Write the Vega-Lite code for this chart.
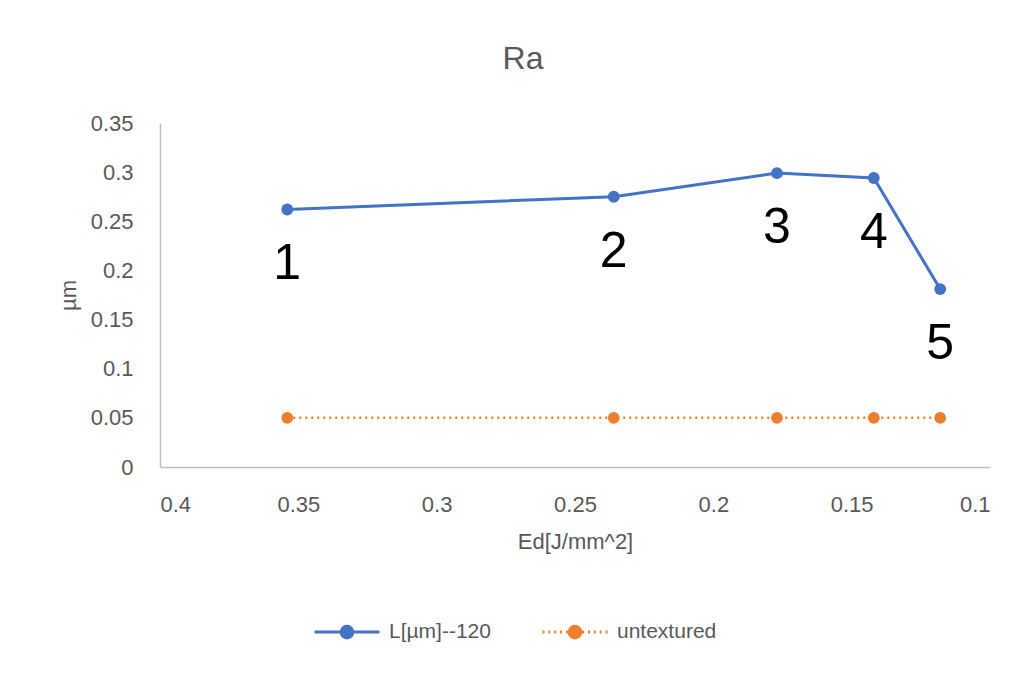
{
  "$schema": "https://vega.github.io/schema/vega-lite/v6.json",
  "width": 830,
  "height": 344,
  "autosize": "none",
  "padding": {"left": 160, "top": 123, "right": 37, "bottom": 206},
  "background": "white",
  "title": {"text": "Ra", "fontSize": 32, "font": "Liberation Sans", "fontWeight": "normal", "color": "#595959", "offset": 36, "anchor": "middle", "dx": -52},
  "config": {
    "view": {"stroke": null},
    "axis": {"labelFont": "Liberation Sans", "titleFont": "Liberation Sans", "labelColor": "#595959", "titleColor": "#595959", "labelFontSize": 22, "titleFontSize": 22, "titleFontWeight": "normal", "grid": false, "ticks": false, "domainColor": "#BFBFBF", "domainWidth": 1.5}
  },
  "data": {"values": [
    {"ed": 0.354, "ra": 0.262, "series": "L[µm]--120", "label": "1"},
    {"ed": 0.236, "ra": 0.275, "series": "L[µm]--120", "label": "2"},
    {"ed": 0.177, "ra": 0.299, "series": "L[µm]--120", "label": "3"},
    {"ed": 0.142, "ra": 0.294, "series": "L[µm]--120", "label": "4"},
    {"ed": 0.118, "ra": 0.181, "series": "L[µm]--120", "label": "5"},
    {"ed": 0.354, "ra": 0.05, "series": "untextured", "label": ""},
    {"ed": 0.236, "ra": 0.05, "series": "untextured", "label": ""},
    {"ed": 0.177, "ra": 0.05, "series": "untextured", "label": ""},
    {"ed": 0.142, "ra": 0.05, "series": "untextured", "label": ""},
    {"ed": 0.118, "ra": 0.05, "series": "untextured", "label": ""}
  ]},
  "encoding": {
    "x": {"field": "ed", "type": "quantitative", "scale": {"domain": [0.1, 0.4], "reverse": true, "nice": false, "zero": false}, "axis": {"values": [0.1, 0.15, 0.2, 0.25, 0.3, 0.35, 0.4], "format": "~g", "title": "Ed[J/mm^2]", "labelPadding": 27, "titlePadding": 16}},
    "y": {"field": "ra", "type": "quantitative", "scale": {"domain": [0, 0.35], "nice": false}, "axis": {"values": [0, 0.05, 0.1, 0.15, 0.2, 0.25, 0.3, 0.35], "format": "~g", "title": "µm", "labelPadding": 27, "titlePadding": 10}}
  },
  "layer": [
    {
      "transform": [{"filter": "datum.series === 'L[µm]--120'"}],
      "mark": {"type": "line", "strokeWidth": 3},
      "encoding": {
        "color": {"field": "series", "type": "nominal", "scale": {"domain": ["L[µm]--120", "untextured"], "range": ["#4472C4", "#ED7D31"]},
          "legend": {"orient": "none", "legendX": 153, "legendY": 475, "direction": "horizontal", "title": null, "labelFont": "Liberation Sans", "labelFontSize": 21, "labelColor": "#595959", "symbolType": "M-1,0L-0.18,0M0.18,0L1,0M-0.18,0a0.18,0.18 0 1,0 0.36,0a0.18,0.18 0 1,0 -0.36,0", "symbolSize": 4225, "symbolStrokeWidth": 3, "columnPadding": 45, "labelOffset": 8,
            "encode": {"symbols": {"update": {
              "fill": {"scale": "color", "field": "value"},
              "shape": {"signal": "datum.value === 'untextured' ? 'M-1,0L-0.94,0M-0.82,0L-0.76,0M-0.64,0L-0.58,0M-0.46,0L-0.4,0M-0.28,0L-0.22,0M0.22,0L0.28,0M0.4,0L0.46,0M0.58,0L0.64,0M0.76,0L0.82,0M0.94,0L1,0M-0.18,0a0.18,0.18 0 1,0 0.36,0a0.18,0.18 0 1,0 -0.36,0' : 'M-1,0L-0.18,0M0.18,0L1,0M-0.18,0a0.18,0.18 0 1,0 0.36,0a0.18,0.18 0 1,0 -0.36,0'"}
            }}}}}
      }
    },
    {
      "transform": [{"filter": "datum.series === 'untextured'"}],
      "mark": {"type": "line", "strokeWidth": 2.5, "strokeDash": [2, 4]},
      "encoding": {"color": {"field": "series", "type": "nominal", "legend": null}}
    },
    {
      "mark": {"type": "point", "filled": true, "size": 140, "opacity": 1},
      "encoding": {"color": {"field": "series", "type": "nominal", "legend": null}}
    },
    {
      "transform": [{"filter": "datum.label != ''"}],
      "mark": {"type": "text", "font": "Liberation Sans", "fontSize": 50, "color": "black", "dy": 55, "baseline": "middle"},
      "encoding": {"text": {"field": "label"}}
    }
  ]
}
